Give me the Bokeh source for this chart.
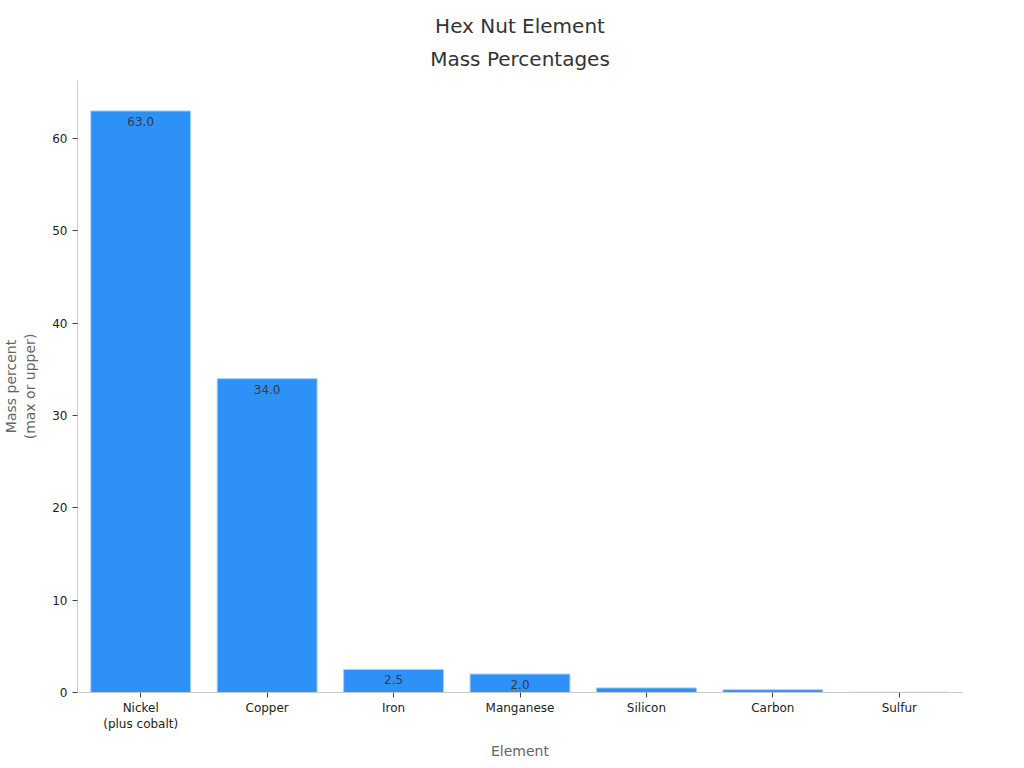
from bokeh.plotting import figure
from bokeh.models import ColumnDataSource, Range1d, Title
from bokeh.core.properties import value
from bokeh.embed import file_html
from bokeh.resources import INLINE

# data
elements = ["Nickel\n(plus cobalt)", "Copper", "Iron", "Manganese", "Silicon", "Carbon", "Sulfur"]
mass_pct = [63.0, 34.0, 2.5, 2.0, 0.5, 0.3, 0.024]
labels = ["63.0", "34.0", "2.5", "2.0", "0.5", "0.3", ""]
title_lines = ["Hex Nut Element", "Mass Percentages"]

font = "DejaVu Sans"

# tiny bars get a tiny label, like in the reference
sizes = ["12px" if v >= 2 else ("4px" if v >= 0.3 else "0px") for v in mass_pct]

src = ColumnDataSource(data=dict(x=elements, top=mass_pct, label=labels, size=sizes))

p = figure(x_range=elements, frame_width=885, frame_height=612,
           output_backend="svg", toolbar_location=None,
           min_border_left=70, min_border_right=53, min_border_top=80, min_border_bottom=0)
p.y_range = Range1d(0, 66.3)

p.vbar(x="x", top="top", width=0.79, source=src,
       fill_color="#2E91F7", line_color="#A9CDF5", line_width=1)

p.text(x="x", y="top", text="label", source=src,
       text_align="center", text_baseline="top", y_offset=6,
       text_font=value(font), text_font_size="size", text_color="#3a3a3a")

# title, two lines (lowest line is added first)
p.add_layout(Title(text=title_lines[1], align="center", text_font=font,
                   text_font_size="20px", text_font_style="normal",
                   text_color="#333333", standoff=19), "above")
p.add_layout(Title(text=title_lines[0], align="center", text_font=font,
                   text_font_size="20px", text_font_style="normal",
                   text_color="#333333", standoff=-5), "above")

p.xaxis.axis_label = "Element"
p.yaxis.axis_label = "Mass percent\n(max or upper)"
p.yaxis.ticker = [0, 10, 20, 30, 40, 50, 60]

for ax in (p.xaxis, p.yaxis):
    ax.axis_label_text_font = font
    ax.axis_label_text_font_size = "14px"
    ax.axis_label_text_font_style = "normal"
    ax.axis_label_text_color = "#666666"
    ax.major_label_text_font = font
    ax.major_label_text_font_size = "12px"
    ax.major_label_text_color = "#222222"
    ax.axis_line_color = "#cccccc"
    ax.major_tick_line_color = "#444444"
    ax.major_tick_in = 0
    ax.major_tick_out = 5
    ax.minor_tick_line_color = None

p.xaxis.major_label_standoff = 3
p.xaxis.major_label_text_line_height = 1.15
p.xaxis.axis_label_standoff = 9
p.yaxis.axis_label_standoff = 11

p.xgrid.grid_line_color = None
p.ygrid.grid_line_color = None
p.outline_line_color = None
p.x_range.range_padding = 0

open("out.html", "w").write(file_html(p, INLINE))
